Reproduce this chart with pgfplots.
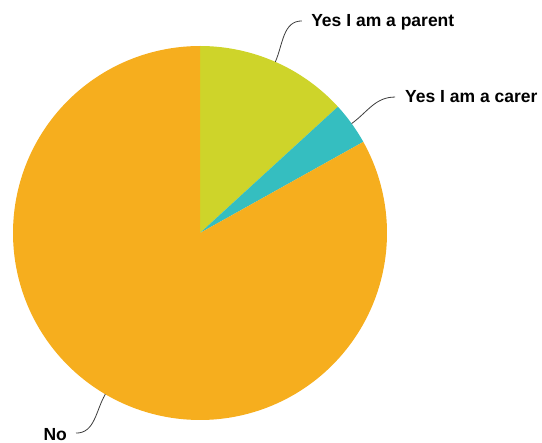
\documentclass[border=0pt]{standalone}
\usepackage{fontspec}
\setmainfont{Liberation Sans}
\usepackage{pgfplots}
\pgfplotsset{compat=1.18}

\definecolor{parentc}{RGB}{206,212,42}
\definecolor{carerc}{RGB}{53,190,192}
\definecolor{noc}{RGB}{246,174,30}
\definecolor{leader}{RGB}{60,60,60}

% shares in percent
\def\vParent{13.2}
\def\vCarer{3.7}
\def\vNo{83.1}

\begin{document}
\begin{tikzpicture}
  % slice angles, clockwise from 12 o'clock
  \pgfmathsetmacro\aA{90}
  \pgfmathsetmacro\aB{\aA-3.6*\vParent}
  \pgfmathsetmacro\aC{\aB-3.6*\vCarer}
  \pgfmathsetmacro\aD{\aC-3.6*\vNo}
  \pgfmathsetmacro\mA{(\aA+\aB)/2}
  \pgfmathsetmacro\mB{(\aB+\aC)/2}
  \pgfmathsetmacro\mC{(\aC+\aD)/2}
  \begin{axis}[
    width=542pt, height=443pt,
    scale only axis,
    hide axis,
    clip=false,
    xmin=-1.0695, xmax=1.8289,
    ymin=-1.1230, ymax=1.2460,
    font=\fontsize{17.5}{20}\selectfont\bfseries,
  ]
  \path (rel axis cs:0,0) rectangle (rel axis cs:1,1);

  \addplot[draw=none, fill=parentc, domain=\aB:\aA, samples=60, variable=\t]
    ({cos(t)},{sin(t)}) -- (axis cs:0,0) -- cycle;
  \addplot[draw=none, fill=carerc, domain=\aC:\aB, samples=30, variable=\t]
    ({cos(t)},{sin(t)}) -- (axis cs:0,0) -- cycle;
  \addplot[draw=none, fill=noc, domain=\aD:\aC, samples=240, variable=\t]
    ({cos(t)},{sin(t)}) -- (axis cs:0,0) -- cycle;

  % leader lines and labels
  \draw[leader, line width=0.8pt]
    (axis cs:{cos(\mA)},{sin(\mA)}) to[out=\mA, in=180] (axis cs:0.545,1.134);
  \draw[leader, line width=0.8pt]
    (axis cs:{cos(\mB)},{sin(\mB)}) to[out=\mB, in=180] (axis cs:1.043,0.727);
  \draw[leader, line width=0.8pt]
    (axis cs:{cos(\mC)},{sin(\mC)}) to[out=\mC, in=0] (axis cs:-0.663,-1.070);

  \node[anchor=base west, inner sep=0pt] at (axis cs:0.594,1.103) {Yes I am a parent};
  \node[anchor=base west, inner sep=0pt] at (axis cs:1.096,0.697) {Yes I am a carer};
  \node[anchor=base east, inner sep=0pt] at (axis cs:-0.711,-1.111) {No};
  \end{axis}
\end{tikzpicture}
\end{document}
